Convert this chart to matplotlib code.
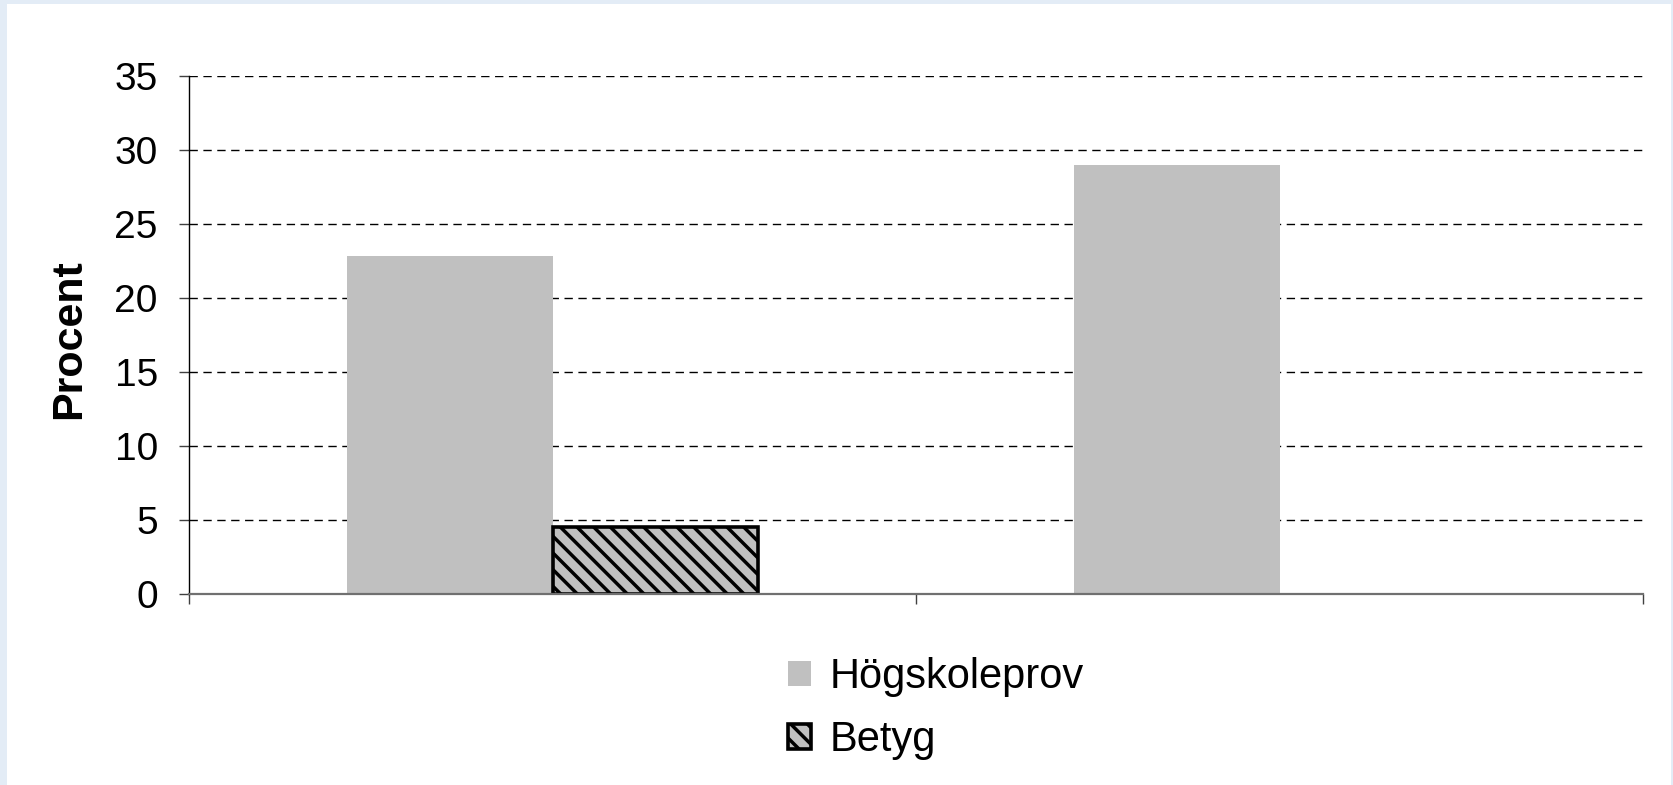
import matplotlib.pyplot as plt
from matplotlib.patches import Rectangle, Patch
import numpy as np

# data
categories = ["Grupp 1", "Grupp 2"]
hogskoleprov = [22.8, 29.0]
betyg = [4.5, 0.0]
yticks = [0, 5, 10, 15, 20, 25, 30, 35]

plt.rcParams['font.family'] = ['Liberation Sans', 'DejaVu Sans']
plt.rcParams['hatch.linewidth'] = 2.5

fig = plt.figure(figsize=(16.73, 7.85), dpi=100, facecolor='#e3ecf6')
# white panel inside a thin light-blue frame
fig.add_artist(Rectangle((7 / 1673, 0), 1664 / 1673, 1 - 4 / 785,
                         transform=fig.transFigure, facecolor='white',
                         edgecolor='none', zorder=-10))

ax = fig.add_axes([189 / 1673, 1 - 593.5 / 785, 1454 / 1673, (593.5 - 75.8) / 785])
ax.set_facecolor('none')

x = np.arange(len(categories))
w = 0.283
ax.bar(x - w / 2, hogskoleprov, w, color='#c0c0c0', edgecolor='none',
       zorder=3, label='Högskoleprov')
bb = ax.bar(x + w / 2, betyg, w, color='#c0c0c0', edgecolor='black',
            linewidth=2.6, hatch='\\\\', zorder=3, label='Betyg')
# zero-height bars would leave a black stub on the axis
for p in bb.patches:
    if p.get_height() == 0:
        p.set_linewidth(0)
        p.set_hatch(None)

ax.set_xlim(-0.5, len(categories) - 0.5)
ax.set_ylim(0, 35)
ax.set_yticks(yticks)
ax.set_xticks(np.arange(len(categories) + 1) - 0.5)
ax.set_xticklabels([])

ax.yaxis.grid(True, color='black', linewidth=1.0, linestyle=(0, (6, 4)), zorder=0)
ax.set_axisbelow(True)

for s in ['top', 'right']:
    ax.spines[s].set_visible(False)
ax.spines['left'].set_color('black')
ax.spines['left'].set_linewidth(1.0)
ax.spines['bottom'].set_color('#707070')
ax.spines['bottom'].set_linewidth(1.6)
ax.spines['left'].set_zorder(4)
ax.spines['bottom'].set_zorder(4)

ax.tick_params(axis='y', direction='out', length=7.5, width=1.0, color='#404040',
               labelsize=28, pad=15)
ax.tick_params(axis='x', direction='out', length=7.5, width=1.0, color='#404040')

fig.text(69 / 1673, 1 - 339 / 785, 'Procent', rotation=90, ha='center', va='center',
         fontsize=31, fontweight='bold')

handles = [Patch(facecolor='#c0c0c0', edgecolor='none'),
           Patch(facecolor='#c0c0c0', edgecolor='black', linewidth=2.6, hatch='\\\\')]
fig.legend(handles, ['Högskoleprov', 'Betyg'], loc='upper left',
           bbox_to_anchor=(788 / 1673, 1 - 657 / 785), frameon=False,
           fontsize=30, handlelength=0.55, handleheight=0.55,
           handletextpad=0.46, labelspacing=0.56, borderpad=0, borderaxespad=0)

fig.savefig('out.png', dpi=100, facecolor=fig.get_facecolor())
